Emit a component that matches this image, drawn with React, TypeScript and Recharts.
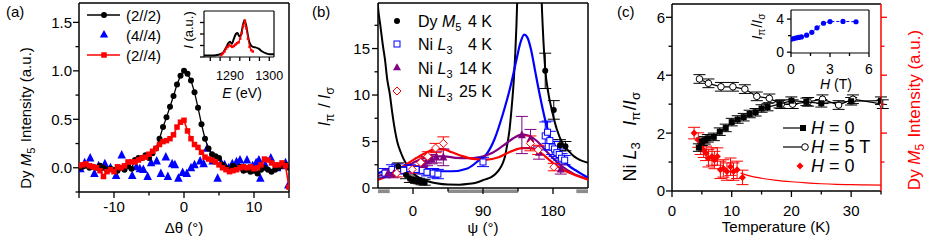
import React from 'react';
import { ComposedChart, Line, Scatter, XAxis, YAxis, ReferenceLine, ReferenceArea, ErrorBar } from 'recharts';

const FONT = '"Liberation Sans", Arial, Helvetica, sans-serif';
const BLUE = '#0000ff';
const RED = '#ff0000';
const PURPLE = '#800080';

// ---------- panel (a): rocking curves ----------
const rockBlack: [number, number][] = [
  [-15, 0.0], [-14.5, 0.01], [-14, 0.02], [-13.5, 0.0], [-13, 0.01], [-12.5, 0.0], [-12, 0.02], [-11.5, 0.0],
  [-11, -0.02], [-10.5, -0.01], [-10, -0.02], [-9.5, -0.03], [-9, 0.0], [-8.5, -0.02], [-8, 0.02], [-7.5, -0.01],
  [-7, 0.08], [-6.5, 0.1], [-6, 0.1], [-5.5, 0.13], [-5, 0.1], [-4.5, 0.15], [-4, 0.2], [-3.5, 0.3],
  [-3, 0.42], [-2.5, 0.52], [-2, 0.63], [-1.5, 0.74], [-1, 0.86], [-0.5, 0.95], [0, 1.0], [0.5, 0.97],
  [1, 0.9], [1.5, 0.78], [2, 0.62], [2.5, 0.45], [3, 0.3], [3.5, 0.2], [4, 0.14], [4.5, 0.12],
  [5, 0.1], [5.5, 0.03], [6, 0.0], [6.5, -0.02], [7, 0.02], [7.5, 0.0], [8, 0.01], [8.5, -0.03],
  [9, -0.02], [9.5, -0.04], [10, -0.03], [10.5, -0.06], [11, -0.02], [11.5, 0.0], [12, -0.02], [12.5, -0.04],
  [13, -0.02], [13.5, 0.0], [14, 0.02], [14.5, 0.03], [15, 0.0],
];
const rockRed: [number, number][] = [
  [-15, 0.02], [-14.5, 0.03], [-14, 0.04], [-13.5, 0.02], [-13, 0.01], [-12.5, 0.0], [-12, -0.03], [-11.5, -0.09],
  [-11, -0.04], [-10.5, -0.02], [-10, -0.04], [-9.5, 0.01], [-9, 0.0], [-8.5, 0.02], [-8, 0.06], [-7.5, 0.06],
  [-7, 0.06], [-6.5, 0.08], [-6, 0.1], [-5.5, 0.11], [-5, 0.14], [-4.5, 0.17], [-4, 0.2], [-3.5, 0.24],
  [-3, 0.27], [-2.5, 0.28], [-2, 0.3], [-1.5, 0.34], [-1, 0.42], [-0.5, 0.47], [0, 0.49], [0.5, 0.38],
  [1, 0.3], [1.5, 0.24], [2, 0.21], [2.5, 0.16], [3, 0.11], [3.5, 0.09], [4, 0.08], [4.5, 0.06],
  [5, 0.03], [5.5, 0.0], [6, -0.02], [6.5, -0.04], [7, -0.03], [7.5, -0.02], [8, 0.0], [8.5, 0.01],
  [9, 0.0], [9.5, 0.01], [10, -0.01], [10.5, 0.0], [11, 0.03], [11.5, 0.09], [12, 0.08], [12.5, 0.05],
  [13, 0.03], [13.5, 0.03], [14, 0.05], [14.5, 0.02], [15, -0.2],
];
const rockBlue: [number, number][] = [
  [-14.8, -0.01], [-14.2, 0.05], [-13.4, 0.1], [-12.8, -0.06], [-12.2, 0.02], [-11.3, 0.04], [-10.5, 0.0], [-9.7, -0.08],
  [-8.9, 0.13], [-8.2, 0.02], [-7.4, -0.08], [-6.8, 0.01], [-6.3, -0.01], [-5.8, -0.02], [-5.2, -0.09], [-4.7, 0.05],
  [-3.9, 0.07], [-3.3, -0.06], [-2.6, 0.11], [-2.3, -0.09], [-1.7, 0.04], [-1.3, 0.03], [-0.8, -0.11], [-0.2, -0.05],
  [0.4, -0.06], [1.0, 0.0], [1.5, 0.03], [2.3, 0.07], [2.8, 0.04], [3.3, 0.2], [4.1, 0.07], [4.8, -0.11],
  [5.3, 0.05], [5.8, 0.03], [6.4, 0.0], [6.9, 0.04], [7.5, 0.06], [8.0, 0.08], [8.5, 0.0], [9.0, 0.08],
  [9.8, 0.02], [10.3, 0.05], [10.7, 0.08], [10.9, -0.11], [11.6, 0.03], [12.4, 0.1], [13.3, 0.0], [14.0, 0.02],
  [14.5, 0.05], [14.9, -0.18],
];
// inset (a): energy scans
const specBlack: [number, number][] = [
  [1283.4, 0.03], [1285, 0.03], [1286.5, 0.04], [1287.5, 0.06], [1288.3, 0.1], [1289, 0.2], [1289.6, 0.3], [1290, 0.33],
  [1290.5, 0.29], [1291, 0.4], [1291.5, 0.5], [1291.9, 0.52], [1292.4, 0.45], [1292.8, 0.47], [1293.2, 0.65], [1293.7, 0.8],
  [1294.2, 0.65], [1294.7, 0.4], [1295.2, 0.27], [1295.8, 0.22], [1296.5, 0.21], [1297.3, 0.18], [1298.2, 0.12], [1299.2, 0.08],
  [1300.2, 0.06], [1301.2, 0.06],
];
const specRed: [number, number][] = [
  [1287.8, 0.04], [1288.2, 0.08], [1288.6, 0.12], [1289, 0.18], [1289.4, 0.22], [1289.8, 0.26], [1290.2, 0.24], [1290.6, 0.22],
  [1291, 0.24], [1291.4, 0.27], [1291.8, 0.3], [1292.2, 0.32], [1292.6, 0.4], [1293, 0.52], [1293.4, 0.68], [1293.8, 0.79],
  [1294.2, 0.62], [1294.6, 0.4], [1295, 0.22], [1295.4, 0.15], [1295.8, 0.12],
];

// ---------- panel (b): azimuthal dependence ----------
const fitDyLeft: [number, number][] = [
  [-48, 24], [-45, 19.5], [-42, 17.5], [-39, 15.5], [-36, 13.8], [-33, 11.6], [-30, 10.2], [-27, 8.3], [-24, 6.6],
  [-20, 4.9], [-16, 3.9], [-12, 3.1], [-8, 2.5], [-4, 2.0], [0, 1.6], [6, 1.2], [13, 0.9], [20, 0.7], [30, 0.5],
  [45, 0.37], [60, 0.36], [72, 0.45], [82, 0.6], [92, 0.9], [100, 1.15], [106, 1.5], [111, 2.0], [115, 2.6],
  [118, 3.3], [121, 4.6], [124, 6.2], [127, 8.8], [129.5, 11.5], [131.5, 14.5], [133, 17.5], [134.5, 21.5], [135.5, 25],
];
const fitDyRight: [number, number][] = [
  [164, 25], [165.5, 20], [167, 17], [170, 12.8], [174, 10.2], [178.5, 8.4], [185, 6.3], [193, 4.7], [200, 4.0],
  [207, 3.4], [215, 3.0], [226, 2.7],
];
const fitNi4: [number, number][] = [
  [-45, 1.6], [-20, 2.1], [-5, 2.15], [10, 2.0], [30, 1.8], [50, 1.8], [70, 2.1], [85, 3.0], [95, 3.7], [105, 5.3],
  [115, 7.8], [125, 10.8], [133, 13.8], [138, 15.6], [143, 16.5], [147, 16.2], [152, 14.8], [157, 12.6], [163, 10.0],
  [170, 7.3], [178, 5.0], [189, 3.4], [200, 2.4], [211, 1.8], [225, 1.1],
];
const fitNi14: [number, number][] = [
  [-45, 1.3], [-30, 1.6], [-15, 2.1], [0, 2.7], [10, 3.1], [25, 3.4], [40, 3.4], [55, 3.25], [70, 3.2], [85, 3.3],
  [100, 3.7], [115, 4.5], [128, 5.3], [140, 5.75], [150, 5.6], [160, 5.0], [170, 4.1], [180, 3.2], [192, 2.3],
  [205, 1.6], [225, 0.95],
];
const fitNi25: [number, number][] = [
  [-45, 0.9], [-30, 1.4], [-15, 2.2], [0, 3.0], [15, 3.7], [30, 4.2], [40, 4.15], [50, 3.85], [65, 3.4], [80, 3.1],
  [95, 3.05], [110, 3.3], [125, 3.9], [140, 4.3], [150, 4.3], [160, 4.05], [170, 3.4], [180, 2.7], [190, 2.1],
  [205, 1.5], [225, 0.9],
];
const ptsDy: [number, number, number][] = [
  [-19, 2.3, 0.4], [-9, 1.4, 0.4], [-4, 1.0, 0.4], [0, 0.9, 0.3], [4, 0.8, 0.3], [8, 0.75, 0.3], [11, 0.65, 0.3],
  [15, 0.6, 0.3], [170, 12.6, 1.9], [181, 8.4, 1.0], [189, 4.6, 0.6], [196, 4.5, 0.5],
];
const ptsNi4: [number, number, number][] = [
  [-36, 1.6, 0.5], [-27, 2.0, 0.5], [-20, 2.1, 0.5], [-12, 1.9, 0.4], [-4, 2.1, 0.4], [4, 2.0, 0.4], [12, 1.9, 0.4],
  [18, 1.7, 0.4], [26, 1.6, 0.5], [32, 1.5, 0.5], [90, 2.8, 0.5], [170, 5.6, 1.5], [173, 6.0, 1.2], [176, 5.1, 1.0],
  [179, 4.4, 0.8], [182, 4.2, 0.8], [185, 3.8, 0.6], [188, 3.6, 0.6], [191, 3.2, 0.5], [195, 3.0, 0.5],
];
const ptsNi14: [number, number, number][] = [
  [-32, 1.6, 0.4], [-25, 1.5, 0.4], [14, 2.5, 0.5], [18, 2.9, 0.5], [24, 3.1, 0.5], [30, 3.3, 0.6], [39, 3.3, 0.9],
  [140, 5.7, 2.0], [151, 5.3, 1.0], [162, 3.8, 0.7], [190, 2.0, 0.5],
];
const ptsNi25: [number, number, number][] = [
  [-21, 1.6, 0.4], [-1, 2.0, 0.4], [10, 2.75, 0.5], [19, 3.4, 0.5], [29, 4.3, 0.5], [39, 4.8, 0.7], [151, 4.8, 0.8],
  [161, 4.1, 0.5], [181, 2.25, 0.4],
];
const shadedPsi: [number, number][] = [[-45, -30], [45, 135], [210, 225]];

// ---------- panel (c): temperature dependence ----------
const tempH0: [number, number, number][] = [
  [4.5, 1.5, 0.13], [5, 1.7, 0.13], [5.5, 1.75, 0.13], [6, 1.82, 0.13], [7, 1.87, 0.13], [8, 2.05, 0.13], [9, 2.18, 0.13],
  [10, 2.38, 0.13], [11, 2.47, 0.13], [12, 2.55, 0.13], [13, 2.66, 0.13], [14, 2.72, 0.13], [15, 2.85, 0.13],
  [16, 2.9, 0.13], [18, 3.0, 0.13], [20, 3.12, 0.13], [22.5, 3.08, 0.13], [25, 3.03, 0.13], [30, 3.1, 0.13],
  [35, 3.12, 0.13],
];
const tempH5: [number, number, number][] = [
  [4.6, 3.87, 0.15], [6.1, 3.72, 0.15], [8.2, 3.6, 0.15], [10.2, 3.6, 0.15], [12.2, 3.52, 0.15], [14.2, 3.27, 0.15],
  [16.3, 3.2, 0.15], [18.3, 3.0, 0.15], [20.2, 3.0, 0.15], [22.8, 3.08, 0.15], [25.2, 3.17, 0.15], [27.9, 2.97, 0.15],
  [30.3, 3.17, 0.15], [35.3, 3.0, 0.15],
];
const dyTemp: [number, number, number][] = [
  [3.7, 2.0, 0.2], [4.4, 1.76, 0.25], [4.8, 1.51, 0.25], [5.3, 1.41, 0.25], [5.7, 1.3, 0.25], [6.1, 1.13, 0.3],
  [6.7, 1.19, 0.3], [7.1, 1.07, 0.3], [7.6, 1.19, 0.3], [8.1, 0.73, 0.3], [8.6, 0.78, 0.3], [9.2, 0.67, 0.3],
  [9.8, 0.84, 0.3], [10.3, 0.67, 0.3], [10.9, 0.73, 0.3], [11.8, 0.47, 0.25],
];
const dyFit: [number, number][] = [
  [11.5, 0.62], [13, 0.52], [15, 0.44], [17.5, 0.37], [20, 0.32], [22.5, 0.28], [25, 0.25], [27.5, 0.23], [30, 0.22],
  [32.5, 0.21], [35, 0.2],
];
// inset (c): field dependence
const fieldH: [number, number][] = [
  [0, 1.55], [0.2, 1.65], [0.4, 1.72], [0.6, 1.78], [0.8, 1.85], [1.2, 2.05], [1.6, 2.4], [2.0, 2.95], [2.5, 3.5],
  [3.0, 3.7], [4.0, 3.72], [5.0, 3.68],
];

const xy = (a: number[][]) => a.map(([x, y, e]) => ({ x, y, e }));

// ---------- ticks ----------
type TickCfg = {
  side: 'bottom' | 'left' | 'right';
  major: number[];
  labels?: number[];
  len?: number;
  minorLen?: number;
  fs?: number;
  gap?: number;
  color?: string;
  fmt?: (v: number) => string;
};
const same = (a: number, b: number) => Math.abs(a - b) < 1e-6;

const makeTick = (cfg: TickCfg) => (props: any) => {
  const { x, y, payload } = props;
  const v = Number(payload.value);
  const isMajor = cfg.major.some((m) => same(m, v));
  const len = isMajor ? cfg.len ?? 6 : cfg.minorLen ?? 3.5;
  const color = cfg.color ?? '#000';
  const fs = cfg.fs ?? 15;
  const gap = cfg.gap ?? 19;
  const show = (cfg.labels ?? cfg.major).some((m) => same(m, v));
  const text = show ? (cfg.fmt ? cfg.fmt(v) : String(v)) : null;
  if (cfg.side === 'bottom') {
    return (
      <g>
        <line x1={x} y1={y} x2={x} y2={y + len} stroke={color} strokeWidth={1.3} />
        {text !== null && (
          <text x={x} y={y + gap} textAnchor="middle" fontSize={fs} fill={color}>{text}</text>
        )}
      </g>
    );
  }
  const d = cfg.side === 'left' ? -1 : 1;
  return (
    <g>
      <line x1={x} y1={y} x2={x + d * len} y2={y} stroke={color} strokeWidth={1.3} />
      {text !== null && (
        <text x={x + d * gap} y={y} dy="0.36em" textAnchor={d < 0 ? 'end' : 'start'} fontSize={fs} fill={color}>{text}</text>
      )}
    </g>
  );
};

// ---------- markers ----------
const dotShape = (r: number, fill: string, stroke = 'none') => (p: any) => (
  <circle cx={p.cx} cy={p.cy} r={r} fill={fill} stroke={stroke} strokeWidth={1} />
);
const squareShape = (s: number, fill: string, stroke = 'none') => (p: any) => (
  <rect x={p.cx - s / 2} y={p.cy - s / 2} width={s} height={s} fill={fill} stroke={stroke} strokeWidth={1} />
);
const triShape = (s: number, fill: string) => (p: any) => (
  <path d={`M${p.cx},${p.cy - s * 0.6}L${p.cx + s / 2},${p.cy + s * 0.4}L${p.cx - s / 2},${p.cy + s * 0.4}Z`} fill={fill} />
);
const diamondShape = (s: number, fill: string, stroke = 'none') => (p: any) => (
  <path d={`M${p.cx},${p.cy - s / 2}L${p.cx + s / 2},${p.cy}L${p.cx},${p.cy + s / 2}L${p.cx - s / 2},${p.cy}Z`} fill={fill} stroke={stroke} strokeWidth={1} />
);

const axisLine = { stroke: '#000', strokeWidth: 1.5 };
const numAxis = { type: 'number' as const, interval: 0 as const, tickSize: 0, tickMargin: 0, tickLine: false, allowDataOverflow: true };

// subscript that returns to the baseline afterwards
const Sub = ({ t, fs = 11, d = 4 }: { t: string; fs?: number; d?: number }) => (
  <>
    <tspan fontSize={fs} dy={d}>{t}</tspan>
    <tspan dy={-d}>{'\u200a'}</tspan>
  </>
);
const SP = '\u00a0';

const PanelA = () => (
  <>
    <div style={{ position: 'absolute', left: 0, top: 0 }}>
      <ComposedChart width={300} height={241} margin={{ top: 3, right: 11, bottom: 0, left: 0 }}>
        <XAxis {...numAxis} dataKey="x" domain={[-15, 15]} height={49} ticks={[-15, -10, -5, 0, 5, 10, 15]}
          axisLine={axisLine} tick={makeTick({ side: 'bottom', major: [-15, -10, 0, 10, 15], labels: [-10, 0, 10], gap: 20, fs: 15 })} />
        <YAxis {...numAxis} dataKey="y" domain={[-0.25, 1.7]} width={79} ticks={[-0.25, 0, 0.25, 0.5, 0.75, 1, 1.25, 1.5]}
          axisLine={axisLine} tick={makeTick({ side: 'left', major: [0, 0.5, 1, 1.5], gap: 7, fs: 15, fmt: (v) => v.toFixed(1) })} />
        <ReferenceLine y={1.7} stroke="#000" strokeWidth={1.5} />
        <ReferenceLine x={15} stroke="#000" strokeWidth={1.5} />
        <Scatter data={xy(rockBlue)} shape={triShape(8.5, BLUE)} isAnimationActive={false} />
        <Scatter data={xy(rockBlack)} line={{ stroke: '#000', strokeWidth: 1.3 }} shape={dotShape(3, '#000')} isAnimationActive={false} />
        <Scatter data={xy(rockRed)} line={{ stroke: RED, strokeWidth: 1.6 }} shape={squareShape(5.5, RED)} isAnimationActive={false} />
      </ComposedChart>
    </div>
    <div style={{ position: 'absolute', left: 160, top: 0 }}>
      <ComposedChart width={135} height={100} margin={{ top: 11, right: 21, bottom: 0, left: 0 }}>
        <XAxis {...numAxis} dataKey="x" domain={[1283.4, 1301.2]} height={43} ticks={[1285, 1287.5, 1290, 1292.5, 1295, 1297.5, 1300]}
          axisLine={{ stroke: '#000', strokeWidth: 1.2 }} tick={makeTick({ side: 'bottom', major: [1290, 1300], len: 4, minorLen: 4, gap: 23, fs: 12.5 })} />
        <YAxis {...numAxis} dataKey="y" domain={[0, 1]} width={44} ticks={[0, 0.25, 0.5, 0.75]}
          axisLine={{ stroke: '#000', strokeWidth: 1.2 }} tick={makeTick({ side: 'left', major: [], labels: [], minorLen: 4 })} />
        <ReferenceLine y={1} stroke="#000" strokeWidth={1.2} />
        <ReferenceLine x={1301.2} stroke="#000" strokeWidth={1.2} />
        <Line data={xy(specBlack)} dataKey="y" type="monotone" stroke="#000" strokeWidth={2} dot={false} isAnimationActive={false} />
        <Scatter data={xy(specRed)} line={{ stroke: RED, strokeWidth: 1.2 }} shape={squareShape(2.5, RED)} isAnimationActive={false} />
      </ComposedChart>
    </div>
  </>
);

const PanelB = () => (
  <div style={{ position: 'absolute', left: 300, top: 0 }}>
    <ComposedChart width={300} height={241} margin={{ top: 3, right: 12, bottom: 0, left: 0 }}>
      <XAxis {...numAxis} dataKey="x" domain={[-45, 225]} height={53} ticks={[0, 45, 90, 135, 180]}
        axisLine={axisLine} tick={makeTick({ side: 'bottom', major: [0, 90, 180], gap: 28, fs: 15 })} />
      <YAxis {...numAxis} dataKey="y" domain={[0, 19.9]} width={78} ticks={[0, 2.5, 5, 7.5, 10, 12.5, 15, 17.5]}
        axisLine={axisLine} tick={makeTick({ side: 'left', major: [0, 5, 10, 15], gap: 8, fs: 15 })} />
      {shadedPsi.map(([a, b]) => (
        <ReferenceArea key={a} x1={a} x2={b} y1={-0.15} y2={-0.55} ifOverflow="visible" fill="#8c8c8c" fillOpacity={1} stroke="none" />
      ))}
      <ReferenceLine y={19.9} stroke="#000" strokeWidth={1.5} />
      <ReferenceLine x={225} stroke="#000" strokeWidth={1.5} />
      <Line data={xy(fitDyLeft)} dataKey="y" type="monotone" stroke="#000" strokeWidth={2} dot={false} isAnimationActive={false} />
      <Line data={xy(fitDyRight)} dataKey="y" type="monotone" stroke="#000" strokeWidth={2} dot={false} isAnimationActive={false} />
      <Line data={xy(fitNi4)} dataKey="y" type="monotone" stroke={BLUE} strokeWidth={2.2} dot={false} isAnimationActive={false} />
      <Line data={xy(fitNi14)} dataKey="y" type="monotone" stroke={PURPLE} strokeWidth={2.2} dot={false} isAnimationActive={false} />
      <Line data={xy(fitNi25)} dataKey="y" type="monotone" stroke={RED} strokeWidth={2.2} dot={false} isAnimationActive={false} />
      <Scatter data={xy(ptsNi4)} shape={squareShape(6, '#fff', BLUE)} isAnimationActive={false}>
        <ErrorBar dataKey="e" direction="y" width={6} stroke={BLUE} strokeWidth={1} />
      </Scatter>
      <Scatter data={xy(ptsNi14)} shape={triShape(8, PURPLE)} isAnimationActive={false}>
        <ErrorBar dataKey="e" direction="y" width={6} stroke={PURPLE} strokeWidth={1} />
      </Scatter>
      <Scatter data={xy(ptsNi25)} shape={diamondShape(8, '#fff', RED)} isAnimationActive={false}>
        <ErrorBar dataKey="e" direction="y" width={6} stroke={RED} strokeWidth={1} />
      </Scatter>
      <Scatter data={xy(ptsDy)} shape={dotShape(3, '#000')} isAnimationActive={false}>
        <ErrorBar dataKey="e" direction="y" width={6} stroke="#000" strokeWidth={1} />
      </Scatter>
    </ComposedChart>
  </div>
);

const PanelC = () => (
  <>
    <div style={{ position: 'absolute', left: 600, top: 0 }}>
      <ComposedChart width={326} height={241} margin={{ top: 4, right: 37, bottom: 0, left: 0 }}>
        <XAxis {...numAxis} dataKey="x" domain={[0, 35]} height={50} ticks={[0, 5, 10, 15, 20, 25, 30, 35]}
          axisLine={axisLine} tick={makeTick({ side: 'bottom', major: [0, 10, 20, 30], gap: 25, fs: 15 })} />
        <YAxis {...numAxis} dataKey="y" domain={[0, 6.46]} width={72} ticks={[0, 1, 2, 3, 4, 5, 6]}
          axisLine={axisLine} tick={makeTick({ side: 'left', major: [0, 2, 4, 6], gap: 7, fs: 15 })} />
        <YAxis {...numAxis} yAxisId="r" orientation="right" dataKey="y" domain={[0, 6.46]} width={8} ticks={[1, 2, 3, 4, 5, 6]}
          axisLine={{ stroke: RED, strokeWidth: 1.5 }} tick={makeTick({ side: 'right', major: [2, 4, 6], labels: [], color: RED })} />
        <ReferenceLine y={6.46} stroke="#000" strokeWidth={1.5} />
        <Line yAxisId="r" data={xy(dyFit)} dataKey="y" type="monotone" stroke={RED} strokeWidth={1.2} dot={false} isAnimationActive={false} />
        <Scatter yAxisId="r" data={xy(dyTemp)} shape={diamondShape(7, RED)} isAnimationActive={false}>
          <ErrorBar dataKey="e" direction="y" width={6} stroke={RED} strokeWidth={1} />
        </Scatter>
        <Scatter data={xy(tempH5)} line={{ stroke: '#000', strokeWidth: 1.2 }} shape={dotShape(3.3, '#fff', '#000')} isAnimationActive={false}>
          <ErrorBar dataKey="e" direction="y" width={6} stroke="#000" strokeWidth={1} />
        </Scatter>
        <Scatter data={xy(tempH0)} line={{ stroke: '#000', strokeWidth: 1.2 }} shape={squareShape(6, '#000')} isAnimationActive={false}>
          <ErrorBar dataKey="e" direction="y" width={6} stroke="#000" strokeWidth={1} />
        </Scatter>
      </ComposedChart>
    </div>
    <div style={{ position: 'absolute', left: 740, top: 0 }}>
      <ComposedChart width={140} height={100} margin={{ top: 10, right: 11, bottom: 0, left: 0 }}>
        <XAxis {...numAxis} dataKey="x" domain={[0, 6]} height={47} ticks={[0, 1.5, 3, 4.5, 6]}
          axisLine={{ stroke: '#000', strokeWidth: 1.2 }} tick={makeTick({ side: 'bottom', major: [0, 3, 6], len: 4, minorLen: 3, gap: 21, fs: 14 })} />
        <YAxis {...numAxis} dataKey="y" domain={[-0.1, 5.1]} width={51} ticks={[0, 2, 4]}
          axisLine={{ stroke: '#000', strokeWidth: 1.2 }} tick={makeTick({ side: 'left', major: [0, 4], len: 4, minorLen: 3, gap: 7, fs: 14 })} />
        <ReferenceLine y={5.1} stroke="#000" strokeWidth={1.2} />
        <ReferenceLine x={6} stroke="#000" strokeWidth={1.2} />
        <Scatter data={xy(fieldH)} line={{ stroke: BLUE, strokeWidth: 1, strokeDasharray: '3 2' }} shape={dotShape(2.6, BLUE)} isAnimationActive={false} />
      </ComposedChart>
    </div>
  </>
);

const Overlay = () => (
  <svg width={926} height={241} style={{ position: 'absolute', left: 0, top: 0, pointerEvents: 'none' }} fontFamily={FONT} fontSize={15}>
    {/* panel (a) */}
    <text x={6} y={17}>(a)</text>
    <text x={26} y={123} textAnchor="middle" transform="rotate(-90 26 118)">
      Dy <tspan fontStyle="italic">M</tspan><Sub t="5" />{SP}Intensity (a.u.)
    </text>
    <text x={184} y={233} textAnchor="middle">Δθ (°)</text>
    <line x1={87} y1={15} x2={120} y2={15} stroke="#000" strokeWidth={1.3} />
    <circle cx={104} cy={15} r={3} fill="#000" />
    <text x={126} y={20.5}>(2//2)</text>
    <path d="M104,30L108.25,37.4L99.75,37.4Z" fill={BLUE} />
    <text x={126} y={40.5}>(4//4)</text>
    <line x1={87} y1={55} x2={120} y2={55} stroke={RED} strokeWidth={1.6} />
    <rect x={101.25} y={52.25} width={5.5} height={5.5} fill={RED} />
    <text x={126} y={60.5}>(2//4)</text>
    <text x={197} y={34} textAnchor="middle" fontSize={13} transform="rotate(-90 193 34)">
      <tspan fontStyle="italic">I</tspan> (a.u.)
    </text>
    <text x={242} y={98} textAnchor="middle" fontSize={14}><tspan fontStyle="italic">E</tspan> (eV)</text>

    {/* panel (b) */}
    <text x={312} y={17}>(b)</text>
    <text x={325} y={111} textAnchor="middle" fontSize={16} transform="rotate(-90 325 106)">
      <tspan fontStyle="italic">I</tspan><Sub t="π" fs={12} />{SP}/{SP}<tspan fontStyle="italic">I</tspan><Sub t="σ" fs={12} />
    </text>
    <text x={483} y={233} textAnchor="middle">ψ (°)</text>
    <g fontSize={16}>
      <circle cx={397} cy={21} r={3} fill="#000" />
      <text x={418} y={27}>Dy <tspan fontStyle="italic">M</tspan><Sub t="5" fs={11} /></text>
      <text x={492} y={27} textAnchor="end">4 K</text>
      <rect x={394} y={41} width={6} height={6} fill="#fff" stroke={BLUE} />
      <text x={418} y={50}>Ni <tspan fontStyle="italic">L</tspan><Sub t="3" fs={11} /></text>
      <text x={492} y={50} textAnchor="end">4 K</text>
      <path d="M397,63.2L401,70.2L393,70.2Z" fill={PURPLE} />
      <text x={418} y={73.5}>Ni <tspan fontStyle="italic">L</tspan><Sub t="3" fs={11} /></text>
      <text x={492} y={73.5} textAnchor="end">14 K</text>
      <path d="M397,87L401,91L397,95L393,91Z" fill="#fff" stroke={RED} />
      <text x={418} y={97}>Ni <tspan fontStyle="italic">L</tspan><Sub t="3" fs={11} /></text>
      <text x={492} y={97} textAnchor="end">25 K</text>
    </g>

    {/* panel (c) */}
    <text x={617} y={17}>(c)</text>
    <text x={630} y={142} textAnchor="middle" fontSize={18} transform="rotate(-90 630 136)">
      Ni <tspan fontStyle="italic">L</tspan><Sub t="3" fs={13} />{SP + SP + SP}<tspan fontStyle="italic">I</tspan><Sub t="π" fs={13} />/<tspan fontStyle="italic">I</tspan><Sub t="σ" fs={13} />
    </text>
    <text x={914} y={116} textAnchor="middle" fontSize={17} fill={RED} transform="rotate(-90 914 110)">
      Dy <tspan fontStyle="italic">M</tspan><Sub t="5" fs={12} />{SP}Intensity (a.u.)
    </text>
    <text x={776} y={232} textAnchor="middle">Temperature (K)</text>
    <g fontSize={18}>
      <line x1={783} y1={128} x2={805} y2={128} stroke="#000" strokeWidth={1.2} />
      <rect x={800} y={125} width={6} height={6} fill="#000" />
      <text x={811} y={134}><tspan fontStyle="italic">H</tspan> = 0</text>
      <line x1={783} y1={147} x2={802} y2={147} stroke="#000" strokeWidth={1.2} />
      <circle cx={805} cy={147} r={3.3} fill="#fff" stroke="#000" />
      <text x={811} y={153}><tspan fontStyle="italic">H</tspan> = 5 T</text>
      <path d="M800,162.5L803.5,166L800,169.5L796.5,166Z" fill={RED} />
      <text x={811} y={172}><tspan fontStyle="italic">H</tspan> = 0</text>
    </g>
    <text x={767} y={31} textAnchor="middle" fontSize={14} transform="rotate(-90 762 31)">
      <tspan fontStyle="italic">I</tspan><Sub t="π" fs={10} d={3} />/<tspan fontStyle="italic">I</tspan><Sub t="σ" fs={10} d={3} />
    </text>
    <text x={836} y={89} textAnchor="middle" fontSize={14}><tspan fontStyle="italic">H</tspan> (T)</text>
  </svg>
);

export default function App() {
  return (
    <div style={{ position: 'absolute', left: 0, top: 0, width: 926, height: 241, background: '#fff', fontFamily: FONT, overflow: 'hidden' }}>
      <PanelA />
      <PanelB />
      <PanelC />
      <Overlay />
    </div>
  );
}
